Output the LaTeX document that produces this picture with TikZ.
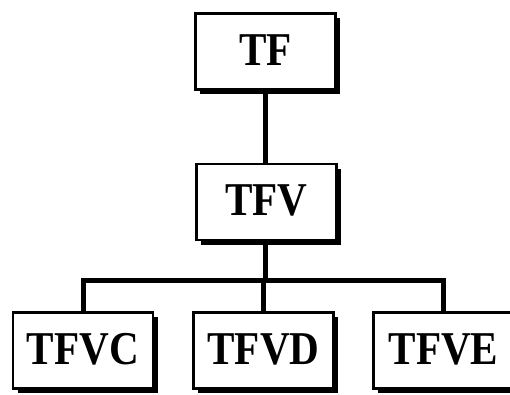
\documentclass[tikz,border=0pt]{standalone}
\usepackage{fontspec}
\setmainfont{Liberation Serif}
\usetikzlibrary{shadows}
\newcommand{\boxlabel}[1]{\raisebox{3pt}{\scalebox{0.98}[1.12]{#1}}}
\begin{document}
\begin{tikzpicture}[x=1pt,y=-1pt,
  unit/.style={draw=black, line width=2.6pt, fill=white,
    minimum width=140pt, minimum height=76pt, inner sep=0pt,
    font=\fontsize{42}{42}\selectfont\bfseries,
    drop shadow={shadow xshift=4.5pt, shadow yshift=-4.5pt, fill=black, opacity=1}},
  link/.style={line width=5pt, line join=miter}]
\useasboundingbox (0,0) rectangle (510,394);
\node[unit] (tf)   at (265.5,51.5) {\boxlabel{TF}};
\node[unit] (tfv)  at (266.5,202)  {\boxlabel{TFV}};
\node[unit] (tfvc) at (83,350.5)   {\boxlabel{TFVC}};
\node[unit] (tfvd) at (263.5,350.5){\boxlabel{TFVD}};
\node[unit] (tfve) at (443.5,350.5){\boxlabel{TFVE}};
\coordinate (bus) at (265,280);
% tree connectors
\draw[link] (tf.south) -- (tf.south |- tfv.north);
\draw[link] (tfv.south -| bus) -- (bus);
\draw[link] (tfvc.north) -- (tfvc.north |- bus) -- (tfve.north |- bus) -- (tfve.north);
\draw[link] (tfvd.north) -- (tfvd.north |- bus);
\end{tikzpicture}
\end{document}
